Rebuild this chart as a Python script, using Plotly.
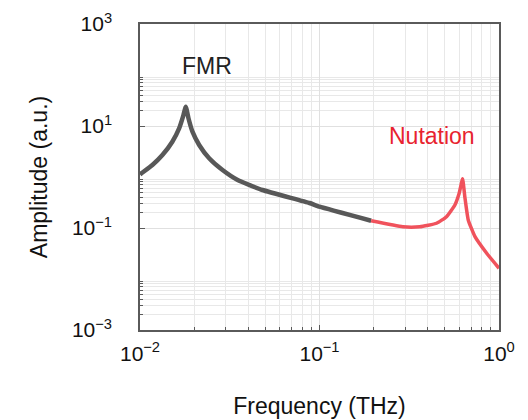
import math
import plotly.graph_objects as go

# FMR (gray) segment
fmr_freq = [0.01, 0.01009, 0.01172, 0.01333, 0.01514, 0.01652, 0.01746, 0.01799,
            0.01862, 0.01960, 0.02136, 0.02428, 0.02882, 0.0350, 0.0481, 0.0880,
            0.1, 0.194]
fmr_amp = [1.12, 1.15, 1.72, 2.70, 4.92, 9.02, 16.4, 23.9,
           14.2, 7.73, 4.24, 2.33, 1.37, 0.873, 0.556, 0.309,
           0.262, 0.139]

# Nutation (red) segment
nut_freq = [0.194, 0.291, 0.362, 0.449, 0.510, 0.568, 0.600, 0.627,
            0.645, 0.674, 0.735, 0.854, 1.0]
nut_amp = [0.139, 0.106, 0.106, 0.124, 0.167, 0.283, 0.479, 0.92,
           0.411, 0.144, 0.0675, 0.0319, 0.0162]

x_major = [0.01, 0.1, 1.0]
x_major_text = ["10<sup>−2</sup>", "10<sup>−1</sup>", "10<sup>0</sup>"]
x_minor = [m * 10.0 ** e for e in (-2, -1) for m in range(2, 10)]

y_major = [1e-3, 1e-1, 1e1, 1e3]
y_major_text = ["10<sup>−3</sup>", "10<sup>−1</sup>", "10<sup>1</sup>", "10<sup>3</sup>"]
y_minor = [m * 10.0 ** e for e in (-3, -1, 1) for m in range(2, 10)]

labels = [("FMR", 0.0236, 150.0, "#222222"), ("Nutation", 0.424, 6.4, "#e8232f")]

FONT = "Liberation Sans, Arial, Helvetica, sans-serif"

fig = go.Figure()
fig.add_trace(go.Scatter(x=fmr_freq, y=fmr_amp, mode="lines",
                         line=dict(color="#585858", width=4.5, shape="spline", smoothing=0.4),
                         showlegend=False))
fig.add_trace(go.Scatter(x=nut_freq, y=nut_amp, mode="lines",
                         line=dict(color="#f0525c", width=3.5, shape="spline", smoothing=0.4),
                         showlegend=False))

for text, xv, yv, col in labels:
    fig.add_annotation(x=math.log10(xv), y=math.log10(yv), text=text, showarrow=False,
                       font=dict(family=FONT, size=23, color=col))

axis_common = dict(
    type="log", showline=True, linecolor="#5a5a5a", linewidth=1.5, mirror=True,
    ticks="inside", ticklen=5, tickcolor="#5a5a5a", tickwidth=1,
    showgrid=True, gridcolor="#e0e0e0", gridwidth=1, zeroline=False,
    tickfont=dict(family=FONT, size=21, color="#111111"),
)

fig.update_xaxes(
    **axis_common, range=[-2, 0], tickmode="array", tickvals=x_major, ticktext=x_major_text,
    ticklabelstandoff=4,
    minor=dict(tickmode="array", tickvals=x_minor, ticks="inside", ticklen=3,
               tickcolor="#5a5a5a", showgrid=True, gridcolor="#e8e8e8", gridwidth=1),
    title=dict(text="Frequency (THz)", font=dict(family=FONT, size=23, color="#111111"), standoff=34),
)
fig.update_yaxes(
    **axis_common, range=[-3, 3], tickmode="array", tickvals=y_major, ticktext=y_major_text,
    ticklabelstandoff=22,
    minor=dict(tickmode="array", tickvals=y_minor, ticks="inside", ticklen=3,
               tickcolor="#5a5a5a", showgrid=True, gridcolor="#e8e8e8", gridwidth=1),
    title=dict(text="Amplitude (a.u.)", font=dict(family=FONT, size=23, color="#111111"), standoff=18),
)

# plot area at x 140-499, y 24-330 of the 528x420 page
fig.update_layout(
    width=528, height=420,
    margin=dict(l=140, r=29, t=24, b=90, autoexpand=False),
    plot_bgcolor="white", paper_bgcolor="white",
)

# remove the browser's default 8px body margin so the figure fills the window exactly
fig.write_html("out.html",
               config={"displayModeBar": False},
               post_script="document.body.style.margin='0';document.body.style.overflow='hidden';")
